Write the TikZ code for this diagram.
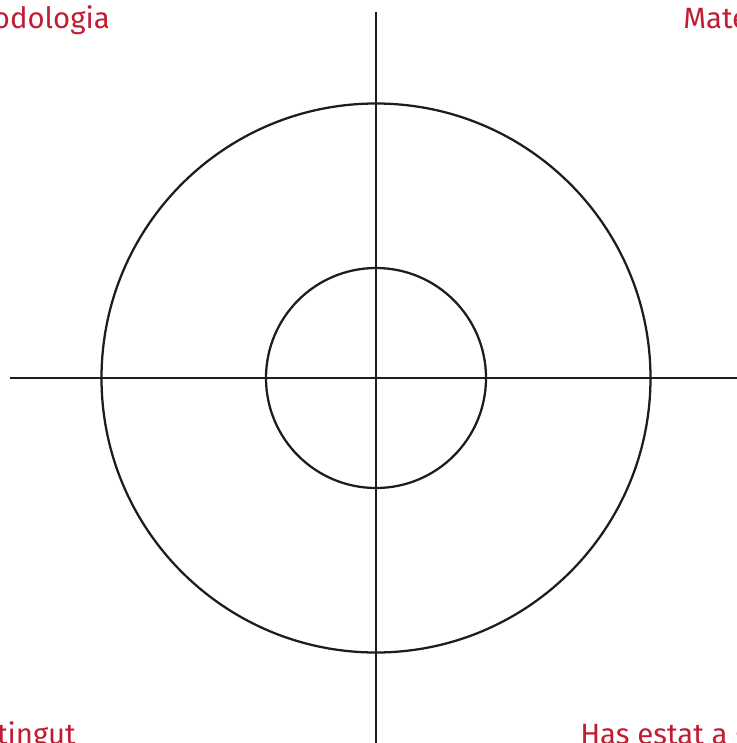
\documentclass[tikz,border=0pt]{standalone}
\usepackage{fontspec}
\setmainfont{Fira Sans}
\usetikzlibrary{calc}
\definecolor{labelred}{rgb}{0.76, 0.11, 0.20}
\definecolor{inkgray}{rgb}{0.12, 0.11, 0.12}

\begin{document}
\begin{tikzpicture}[x=0.75pt, y=-0.75pt]
% Define styles
\tikzset{axis line/.style={inkgray, line width=1.7pt},
         ring/.style={inkgray, line width=1.7pt},
         corner label/.style={labelred, font=\fontsize{22}{24}\selectfont, inner sep=0pt}}

% Parameters
\def\outerr{274.5} % outer ring radius
\def\innerr{110}   % inner ring radius

% Frame of the picture
\useasboundingbox (0,0) rectangle (737,743);
\clip (0,0) rectangle (737,743);

\coordinate (centre) at (376,378);

% Draw axes
\draw[axis line] (10,378) -- (737,378);
\draw[axis line] (376,12) -- (376,743);

% Draw rings
\draw[ring] (centre) circle (\outerr);
\draw[ring] (centre) circle (\innerr);

% Corner labels
\node[corner label, anchor=base east] (topleft) at (110,28) {Metodologia};
\node[corner label, anchor=base west] (topright) at (683,28) {Materials};
\node[corner label, anchor=base east] (bottomleft) at (76,744) {Has obtingut};
\node[corner label, anchor=base west] (bottomright) at (580,744) {Has estat a gust};
\end{tikzpicture}
\end{document}
